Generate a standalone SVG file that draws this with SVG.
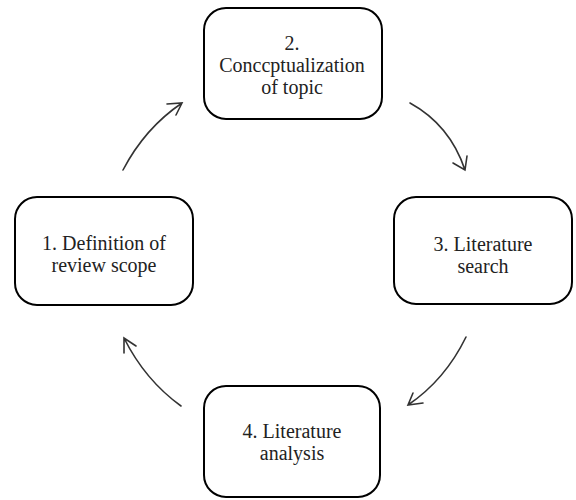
<svg xmlns="http://www.w3.org/2000/svg" width="576" height="500" viewBox="0 0 576 500">
<style>
.box{fill:#fff;stroke:#000;stroke-width:2}
.t{font-family:'Liberation Serif','Times New Roman','DejaVu Serif',serif;font-size:20px;fill:#222;text-anchor:middle}
.c{fill:none;stroke:#333;stroke-width:1.6;stroke-linecap:round}
</style>
<rect width="576" height="500" fill="#fff"/>
<g id="n2"><rect class="box" x="204" y="8" width="178" height="111" rx="22"/>
<text class="t"><tspan x="292" y="50">2.</tspan><tspan x="292" dy="22">Conccptualization</tspan><tspan x="292" dy="22">of topic</tspan></text></g>
<g id="n1"><rect class="box" x="15" y="197" width="178" height="108" rx="22"/>
<text class="t"><tspan x="104" y="249.5">1. Definition of</tspan><tspan x="104" dy="22">review scope</tspan></text></g>
<g id="n3"><rect class="box" x="394" y="197" width="178" height="107" rx="22"/>
<text class="t"><tspan x="483" y="250.5">3. Literature</tspan><tspan x="483" dy="22">search</tspan></text></g>
<g id="n4"><rect class="box" x="204" y="386" width="176" height="111" rx="22"/>
<text class="t"><tspan x="292" y="438">4. Literature</tspan><tspan x="292" dy="22">analysis</tspan></text></g>
<g id="connectors">
<path class="c" d="M123,170 Q145,128 182,103 M167,104 L182,103 L176,115"/>
<path class="c" d="M410,103 Q450,125 465,170 M453,163 L465,170 L467,156"/>
<path class="c" d="M466,337 Q445,380 408,405 M413,393 L408,405 L423,403"/>
<path class="c" d="M181,406 Q145,380 124,338 M124,353 L124,338 L136,346"/>
</g>
</svg>
